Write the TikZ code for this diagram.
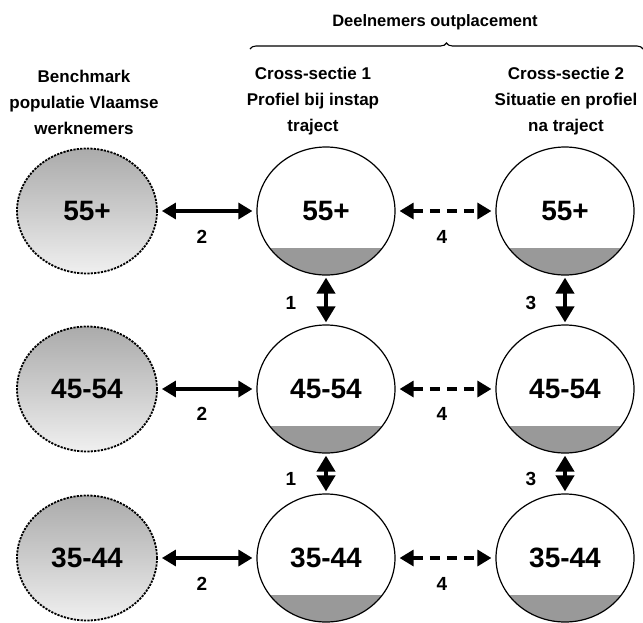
\documentclass[tikz,border=0pt]{standalone}
\usepackage{fontspec}
\setmainfont{Liberation Sans}
\usetikzlibrary{arrows.meta,shapes.geometric,decorations.pathreplacing}
\begin{document}
\begin{tikzpicture}[x=1pt,y=-1pt,
  hdr/.style={font=\bfseries\fontsize{17}{26}\selectfont, align=center, inner sep=0},
  numlbl/.style={font=\bfseries\fontsize{19}{20}\selectfont, inner sep=0},
  bench/.style={ellipse, minimum width=140pt, minimum height=125pt, inner sep=0,
     draw=black, line width=1.8pt, dash pattern=on 2.2pt off 1.2pt,
     shading=axis, top color=black!33, bottom color=black!6, middle color=black!20,
     font=\bfseries\fontsize{28}{30}\selectfont},
  part/.style={ellipse, minimum width=138pt, minimum height=128pt, inner sep=0,
     draw=black, line width=1.2pt, fill=white,
     font=\bfseries\fontsize{28}{30}\selectfont,
     path picture={\fill[black!40] (path picture bounding box.south west) rectangle ([yshift=-37pt]path picture bounding box.east);}},
  harr/.style={line width=3.2pt, {Triangle[width=16pt,length=14pt]}-{Triangle[width=16pt,length=14pt]}, shorten <=4pt, shorten >=4pt},
  darr/.style={harr, dash pattern=on 10pt off 7pt},
  varr/.style={line width=4pt, {Triangle[width=18pt,length=16pt]}-{Triangle[width=18pt,length=16pt]}, shorten <=2pt, shorten >=2pt}
]
\useasboundingbox (0,0) rectangle (643,622);

% headers
\node[hdr, font=\bfseries\fontsize{16.5}{20}\selectfont] (title) at (435,22) {Deelnemers outplacement};
\coordinate (bl) at (250,49);
\coordinate (br) at (643,49);
\draw[line width=1.1pt, decorate, decoration={brace, amplitude=6pt}] (bl) -- (br);
\node[hdr] (h1) at (84,102) {Benchmark\\populatie Vlaamse\\werknemers};
\node[hdr] (h2) at (313,101) {Cross-sectie 1\\Profiel bij instap\\traject};
\node[hdr] (h3) at (566,101) {Cross-sectie 2\\Situatie en profiel\\na traject};

% rows
\foreach \y/\lab/\n in {211/55+/a, 389/45-54/b, 558/35-44/c}{
  \node[bench] (L\n) at (87,\y) {\lab};
  \node[part] (M\n) at (326,\y) {\lab};
  \node[part] (R\n) at (565,\y) {\lab};
}

% horizontal arrows
\foreach \n in {a,b,c}{
  \draw[harr] (L\n) -- (M\n);
  \draw[darr] (M\n) -- (R\n);
}
\node[numlbl] (n2a) at (202,237) {2};
\node[numlbl] (n2b) at (202,414) {2};
\node[numlbl] (n2c) at (202,584) {2};
\node[numlbl] (n4a) at (442,237) {4};
\node[numlbl] (n4b) at (442,414) {4};
\node[numlbl] (n4c) at (442,584) {4};

% vertical arrows
\draw[varr] (Ma) -- (Mb);
\draw[varr] (Mb) -- (Mc);
\draw[varr] (Ra) -- (Rb);
\draw[varr] (Rb) -- (Rc);
\node[numlbl] (n1a) at (291,303) {1};
\node[numlbl] (n1b) at (291,479) {1};
\node[numlbl] (n3a) at (531,303) {3};
\node[numlbl] (n3b) at (531,479) {3};
\end{tikzpicture}
\end{document}
